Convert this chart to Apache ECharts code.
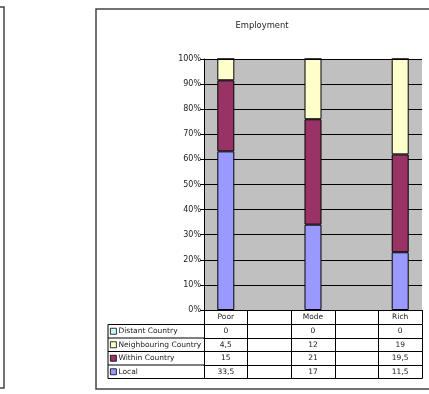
<!DOCTYPE html>
<html>
<head>
<meta charset="utf-8">
<script src="https://cdn.jsdelivr.net/npm/echarts@6/dist/echarts.min.js"></script>
<style>
  html, body { margin: 0; padding: 0; background: #fff; }
  #chart { width: 429px; height: 394px; }
</style>
</head>
<body>
<div id="chart"></div>
<script>
// Employment by region of destination, for three income groups
const categories = ['Poor', '', 'Mode', '', 'Rich'];
const seriesNames = ['Distant Country', 'Neighbouring Country', 'Within Country', 'Local'];
const distant = [0, null, 0, null, 0];
const neighbouring = [4.5, null, 12, null, 19];
const withinCountry = [15, null, 21, null, 19.5];
const local = [33.5, null, 17, null, 11.5];
const colors = ['#CCFFFF', '#FFFFCC', '#993366', '#9999FF'];

// table rows, top to bottom
const rows = [distant, neighbouring, withinCountry, local];

// layout
const W = 429, H = 394;
const gridLeft = 204, gridRight = 7, gridTop = 59, gridBottom = 84;
const axisY = H - gridBottom;
const headerH = 14.5;
const rowH = 13.5;
const legendX = 108;
const font = 'DejaVu Sans';
const textColor = '#222';

const totals = categories.map((c, i) =>
  rows.reduce((s, r) => s + (r[i] == null ? 0 : r[i]), 0));
const share = arr => arr.map((v, i) => v == null ? null : (totals[i] ? v / totals[i] * 100 : 0));
const fmt = v => v == null ? '' : String(v).replace('.', ',');

const chart = echarts.init(document.getElementById('chart'), null, { renderer: 'canvas' });

const baseAxis = {
  type: 'category',
  data: categories,
  position: 'bottom',
  gridIndex: 0,
  axisLine: { show: true, onZero: false, lineStyle: { color: '#000', width: 1 } },
  axisTick: { show: true, interval: 0, inside: false, lineStyle: { color: '#000', width: 1 } },
  axisLabel: { interval: 0, margin: 3, fontFamily: font, fontSize: 7.5, color: textColor },
  splitLine: { show: false }
};

const xAxes = [
  Object.assign({}, baseAxis, {
    offset: 0,
    axisTick: Object.assign({}, baseAxis.axisTick, { length: headerH })
  })
];
rows.forEach((r, k) => {
  xAxes.push(Object.assign({}, baseAxis, {
    offset: headerH + k * rowH,
    axisTick: Object.assign({}, baseAxis.axisTick, { length: rowH }),
    axisLabel: Object.assign({}, baseAxis.axisLabel, { formatter: (v, i) => fmt(r[i]) })
  }));
});
xAxes.push(Object.assign({}, baseAxis, {
  offset: headerH + rows.length * rowH,
  axisTick: { show: false },
  axisLabel: { show: false }
}));

// stacked from the bottom: Local, Within, Neighbouring, Distant
const stackOrder = [3, 2, 1, 0];
const series = stackOrder.map(k => ({
  name: seriesNames[k],
  type: 'bar',
  stack: 'total',
  xAxisIndex: 0,
  barWidth: 17,
  data: share(rows[k]),
  itemStyle: { color: colors[k], borderColor: '#000', borderWidth: 1 },
  emphasis: { disabled: true }
}));

// frame of the legend column of the data table
const tableLines = [];
for (let k = 0; k <= rows.length; k++) {
  const y = axisY + headerH + k * rowH;
  tableLines.push({ type: 'line', shape: { x1: legendX, y1: y, x2: gridLeft, y2: y },
    style: { stroke: '#000', lineWidth: 1 }, silent: true });
}
tableLines.push({ type: 'line',
  shape: { x1: legendX, y1: axisY + headerH, x2: legendX, y2: axisY + headerH + rows.length * rowH },
  style: { stroke: '#000', lineWidth: 1 }, silent: true });

const option = {
  animation: false,
  backgroundColor: '#fff',
  title: {
    text: 'Employment',
    left: 262,
    top: 22,
    padding: 0,
    textAlign: 'center',
    textStyle: { fontFamily: font, fontSize: 8.4, fontWeight: 'normal', color: textColor }
  },
  legend: {
    data: seriesNames,
    orient: 'vertical',
    left: legendX + 2,
    top: axisY + headerH + rowH / 2 - 4,
    padding: 0,
    itemGap: rowH - 8,
    itemWidth: 6,
    itemHeight: 6,
    icon: 'rect',
    itemStyle: { borderColor: '#000', borderWidth: 0.8 },
    textStyle: { fontFamily: font, fontSize: 7.5, lineHeight: 8, color: textColor, padding: [0, 0, 0, -3] }
  },
  grid: {
    left: gridLeft, right: gridRight, top: gridTop, bottom: gridBottom,
    show: true, backgroundColor: '#C0C0C0', borderWidth: 0
  },
  xAxis: xAxes,
  yAxis: {
    type: 'value',
    min: 0, max: 100, interval: 10,
    axisLine: { show: true, lineStyle: { color: '#000', width: 1 } },
    axisTick: { show: true, length: 4, lineStyle: { color: '#000', width: 1 } },
    axisLabel: { formatter: '{value}%', margin: 3, fontFamily: font, fontSize: 8, color: textColor },
    splitLine: { show: true, lineStyle: { color: '#000', width: 1 } }
  },
  series: series,
  graphic: [
    // edge of the neighbouring chart frame
    { type: 'polyline', shape: { points: [[-5, 7], [4, 7], [4, 388], [-5, 388]] },
      style: { stroke: '#444', lineWidth: 1.5, fill: null }, silent: true },
    // this chart's frame, running past the right edge
    { type: 'polyline', shape: { points: [[W + 5, 9], [96, 9], [96, 389], [W + 5, 389]] },
      style: { stroke: '#444', lineWidth: 1.5, fill: null }, silent: true }
  ].concat(tableLines)
};

chart.setOption(option);
</script>
</body>
</html>
